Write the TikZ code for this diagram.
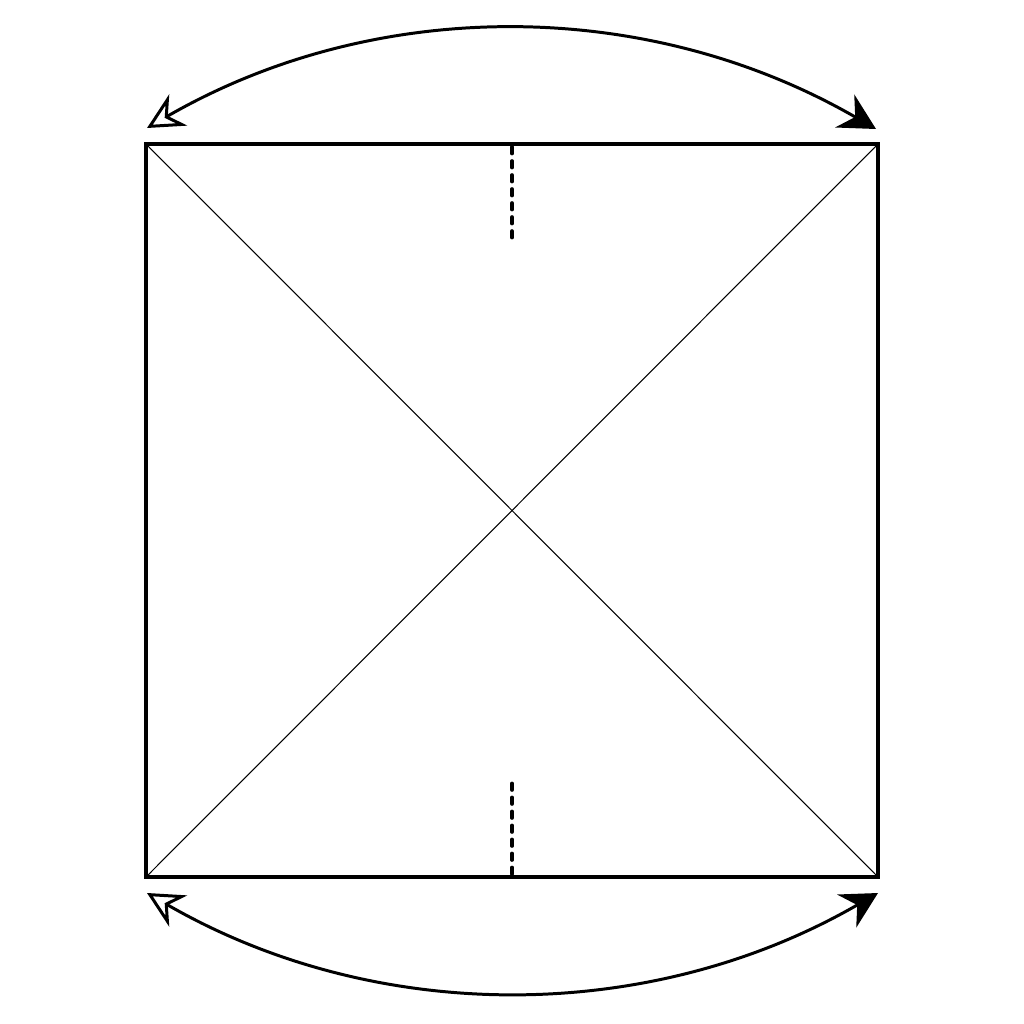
\documentclass[tikz,border=0pt]{standalone}
\usepackage{tikz}
\usetikzlibrary{arrows.meta}
\tikzstyle{sheet} = [line width=1.05pt, line join=miter]
\tikzstyle{crease} = [line width=0.3pt]
\tikzstyle{fold} = [line width=1.05pt, line cap=round, dash pattern=on 0.065cm off 0.075cm]
\tikzstyle{turn} = [line width=0.85pt, {Stealth[open, fill=white, length=0.36cm, width=0.36cm, inset=0.12cm]}-{Stealth[length=0.36cm, width=0.38cm, inset=0.12cm]}]

\begin{document}
\begin{tikzpicture}[x=0.01cm, y=-0.01cm]
\useasboundingbox (0,0) rectangle (1024,1024);
\coordinate (tl) at (146,144);
\coordinate (tr) at (878,144);
\coordinate (br) at (878,877);
\coordinate (bl) at (146,877);
\coordinate (top_mid) at (512,147);
\coordinate (top_end) at (512,242);
\coordinate (bot_mid) at (512,874);
\coordinate (bot_end) at (512,777);
\coordinate (arc_tl) at (147,128);
\coordinate (arc_tr) at (876,129);
\coordinate (arc_bl) at (147,893);
\coordinate (arc_br) at (878,893);
\draw [crease] (tl) -- (br);
\draw [crease] (tr) -- (bl);
\draw [sheet] (tl) -- (tr) -- (br) -- (bl) -- cycle;
\draw [fold] (top_mid) -- (top_end);
\draw [fold] (bot_mid) -- (bot_end);
\draw [turn] (arc_tl) .. controls +(-30:264) and +(-150:264) .. (arc_tr);
\draw [turn] (arc_bl) .. controls +(30:264) and +(150:264) .. (arc_br);
\end{tikzpicture}
\end{document}
